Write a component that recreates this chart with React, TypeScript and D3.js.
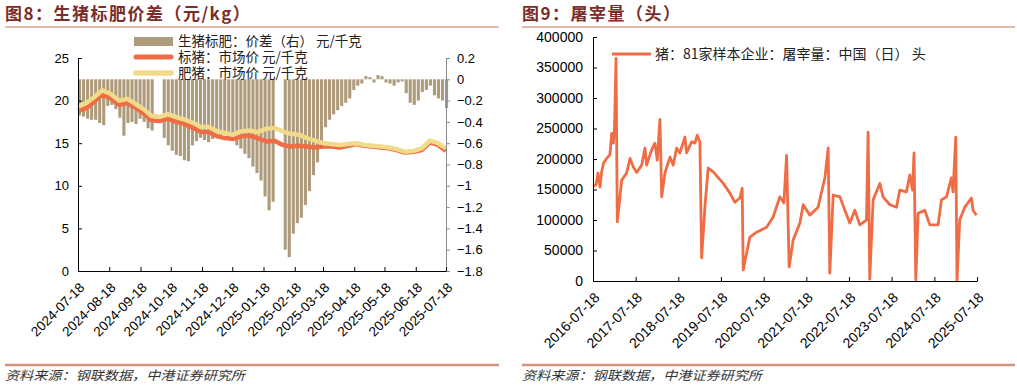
import { useEffect, useRef } from "react";
import * as d3 from "d3";

// ---- left chart: 生猪标肥价差 ----
const spreadStart = "2024-07-18"; // bars every 4 days
const spreadValues = [
  -0.34, -0.35, -0.37, -0.38, -0.38, -0.41, -0.43, -0.25, -0.24, -0.28,
  -0.36, -0.53, -0.41, -0.40, -0.42, -0.37, -0.40, -0.46, -0.48, null,
  null, -0.55, -0.62, -0.67, -0.71, -0.72, -0.76, -0.77, -0.62, -0.58,
  -0.55, -0.57, -0.59, -0.56, -0.52, -0.53, -0.51, -0.55, -0.58, -0.62,
  -0.65, -0.70, -0.74, -0.82, -0.88, -0.95, -1.10, -1.23, -1.15, null,
  null, -1.60, -1.67, -1.45, -1.35, -1.30, -1.18, -1.05, -0.90, -0.78,
  -0.62, -0.45, -0.38, -0.33, -0.29, -0.25, -0.22, -0.18, -0.10, -0.06,
  -0.04, 0.03, 0.02, -0.03, 0.04, 0.03, -0.03, -0.04, -0.06, -0.03,
  -0.02, -0.13, -0.22, -0.24, -0.20, -0.12, -0.10, -0.06, -0.15, -0.18,
  -0.20, -0.27,
];
const standardPrice = [
  18.8, 19.1, 19.9, 20.7, 20.3, 19.5, 19.7, 19.2, 18.5, 17.7,
  17.6, 17.9, 17.5, 17.3, 16.8, 16.3, 16.3, 15.8, 15.6, 15.5,
  15.8, 15.9, 15.6, 15.2, 15.3, 14.8, 14.6, 14.7, 14.6, 14.5,
  14.6, 14.6, 14.5, 14.7, 14.9, 14.7, 14.6, 14.5, 14.4, 14.2,
  13.9, 14.0, 14.2, 15.1, 14.8, 14.1,
];
const fatPrice = [
  19.3, 19.7, 20.4, 21.2, 20.8, 20.0, 20.2, 19.6, 19.0, 18.2,
  18.1, 18.4, 18.1, 17.8, 17.4, 16.9, 16.9, 16.4, 16.2, 16.0,
  16.4, 16.5, 16.3, 16.7, 16.8, 16.4, 16.1, 16.0, 15.6, 15.3,
  15.0, 14.9, 14.8, 14.9, 15.0, 14.8, 14.7, 14.6, 14.5, 14.3,
  14.0, 14.1, 14.4, 15.3, 15.0, 14.4,
];
const leftYTicks = [0, 5, 10, 15, 20, 25];
const rightYTicks = [0.2, 0, -0.2, -0.4, -0.6, -0.8, -1, -1.2, -1.4, -1.6, -1.8];
const leftXTicks = [
  "2024-07-18", "2024-08-18", "2024-09-18", "2024-10-18", "2024-11-18",
  "2024-12-18", "2025-01-18", "2025-02-18", "2025-03-18", "2025-04-18",
  "2025-05-18", "2025-06-18", "2025-07-18",
];

// ---- right chart: 屠宰量 ----
const slaughterDates = [
  "2016-07-18", "2016-08-13", "2016-08-30", "2016-09-16", "2016-09-30", "2016-10-16",
  "2016-11-12", "2016-12-10", "2016-12-25", "2017-01-08", "2017-01-18", "2017-01-31",
  "2017-02-11", "2017-03-06", "2017-03-20", "2017-05-02", "2017-05-31", "2017-06-28",
  "2017-07-27", "2017-09-08", "2017-10-06", "2017-10-20", "2017-12-02", "2017-12-30",
  "2018-01-19", "2018-02-11", "2018-02-26", "2018-03-26", "2018-05-08", "2018-06-05",
  "2018-07-04", "2018-08-01", "2018-09-13", "2018-09-27", "2018-11-09", "2018-12-08",
  "2018-12-27", "2019-01-19", "2019-02-03", "2019-03-03", "2019-03-31", "2019-05-13",
  "2019-08-07", "2019-10-03", "2019-11-15", "2019-12-27", "2020-01-16", "2020-01-25",
  "2020-02-23", "2020-03-22", "2020-05-18", "2020-08-12", "2020-10-07", "2020-12-04",
  "2021-01-07", "2021-01-30", "2021-02-21", "2021-03-27", "2021-05-24", "2021-06-21",
  "2021-08-17", "2021-10-27", "2021-12-24", "2022-01-21", "2022-02-04", "2022-03-05",
  "2022-05-01", "2022-06-13", "2022-07-25", "2022-09-06", "2022-10-19", "2022-12-15",
  "2022-12-29", "2023-01-12", "2023-02-10", "2023-04-08", "2023-05-06", "2023-07-03",
  "2023-08-29", "2023-09-26", "2023-11-22", "2023-12-21", "2024-01-13", "2024-01-26",
  "2024-02-10", "2024-03-01", "2024-04-27", "2024-06-09", "2024-08-19", "2024-09-17",
  "2024-10-30", "2024-12-11", "2024-12-25", "2025-01-17", "2025-01-28", "2025-02-20",
  "2025-04-04", "2025-05-02", "2025-05-31", "2025-06-14", "2025-07-13",
];
const slaughterValues = [
  155000, 158000, 177000, 154000, 179000, 193000,
  201000, 207000, 242000, 226000, 250000, 365000,
  97000, 138000, 165000, 177000, 201000, 187000,
  178000, 190000, 218000, 190000, 215000, 226000,
  198000, 265000, 138000, 177000, 203000, 190000,
  218000, 210000, 236000, 210000, 228000, 226000,
  239000, 228000, 38000, 121000, 185000, 179000,
  160000, 144000, 129000, 136000, 152000, 18000,
  46000, 72000, 80000, 88000, 105000, 138000,
  128000, 206000, 23000, 67000, 95000, 125000,
  108000, 121000, 169000, 218000, 13000, 141000,
  138000, 116000, 95000, 116000, 92000, 100000,
  244000, 3000, 133000, 160000, 138000, 125000,
  121000, 149000, 146000, 174000, 149000, 210000,
  2000, 111000, 116000, 92000, 92000, 133000,
  138000, 169000, 146000, 236000, 0, 100000,
  121000, 128000, 136000, 116000, 108000,
];
const slaughterYTicks = [0, 50000, 100000, 150000, 200000, 250000, 300000, 350000, 400000];
const slaughterXTicks = [
  "2016-07-18", "2017-07-18", "2018-07-18", "2019-07-18", "2020-07-18",
  "2021-07-18", "2022-07-18", "2023-07-18", "2024-07-18", "2025-07-18",
];

const parse = d3.timeParse("%Y-%m-%d");
const cjk = "'Noto Sans CJK SC', sans-serif";
const latin = "'Liberation Sans', Arial, sans-serif";
const barColor = "#ae9b7c";
const orange = "#ef6c44";
const yellow = "#f1da88";
const titleColor = "#7b2d2a";
const ruleColor = "#dba394";

function App() {
  const ref = useRef<SVGSVGElement>(null);

  useEffect(() => {
    const svg = d3.select(ref.current);
    svg.selectAll("*").remove();
    drawFrame(svg);
    drawSpread(svg);
    drawSlaughter(svg);
  }, []);

  return (
    <div style={{ position: "absolute", left: 0, top: 0 }}>
      <svg ref={ref} width={1017} height={387}></svg>
    </div>
  );
}

function drawFrame(svg: any) {
  const titles = [
    { x: 5, text: "图8：生猪标肥价差（元/kg）", x1: 5, x2: 499 },
    { x: 522, text: "图9：屠宰量（头）", x1: 522, x2: 1015 },
  ];
  titles.forEach((t) => {
    svg.append("text")
      .attr("x", t.x).attr("y", 20)
      .attr("font-family", cjk).attr("font-size", 17).attr("font-weight", "bold")
      .attr("letter-spacing", 1.5)
      .attr("fill", titleColor)
      .text(t.text);
    svg.append("line")
      .attr("x1", t.x1).attr("x2", t.x2).attr("y1", 27).attr("y2", 27)
      .attr("stroke", ruleColor).attr("stroke-width", 1.5);
    svg.append("line")
      .attr("x1", t.x1).attr("x2", t.x2).attr("y1", 365).attr("y2", 365)
      .attr("stroke", "#d39482").attr("stroke-width", 2.5);
    svg.append("text")
      .attr("x", t.x1).attr("y", 380)
      .attr("font-family", cjk).attr("font-size", 12.5).attr("font-style", "italic")
      .attr("fill", "#333")
      .attr("textLength", 240).attr("lengthAdjust", "spacingAndGlyphs")
      .text("资料来源：钢联数据，中港证券研究所");
  });
}

function rotatedLabels(svg: any, ticks: string[], x: any, y0: number, size: number) {
  svg.append("g")
    .selectAll("text")
    .data(ticks)
    .join("text")
    .attr("transform", (d: string) => `translate(${x(parse(d)) + 4},${y0}) rotate(-45)`)
    .attr("text-anchor", "end")
    .attr("dy", "0.35em")
    .attr("font-family", latin)
    .attr("font-size", size)
    .attr("fill", "#000")
    .text((d: string) => d);
}

function drawSpread(svg: any) {
  const left = 78, right = 446, top = 58, bottom = 271;
  const start = parse(spreadStart)!;
  const x = d3.scaleTime()
    .domain([parse("2024-07-18")!, parse("2025-07-18")!])
    .range([left, right]);
  const yL = d3.scaleLinear().domain([0, 25]).range([bottom, top]);
  const yR = d3.scaleLinear().domain([-1.8, 0.2]).range([bottom, top]);

  // bars (right axis)
  const bars = spreadValues
    .map((v, i) => ({ date: d3.timeDay.offset(start, i * 4), v }))
    .filter((d) => d.v !== null) as { date: Date; v: number }[];
  svg.append("g")
    .selectAll("rect")
    .data(bars)
    .join("rect")
    .attr("x", (d: any) => x(d.date))
    .attr("width", 3.1)
    .attr("y", (d: any) => Math.min(yR(0), yR(d.v)))
    .attr("height", (d: any) => Math.abs(yR(d.v) - yR(0)))
    .attr("fill", barColor);

  // price lines (left axis)
  const n = standardPrice.length;
  const lineDate = (i: number) => d3.timeDay.offset(parse("2024-07-18")!, Math.round((i * 365) / (n - 1)));
  const line = d3.line<number>()
    .x((d, i) => x(lineDate(i)))
    .y((d) => yL(d))
    .curve(d3.curveLinear);
  svg.append("path")
    .datum(standardPrice)
    .attr("fill", "none").attr("stroke", orange).attr("stroke-width", 4.5)
    .attr("stroke-linejoin", "round")
    .attr("d", line);
  svg.append("path")
    .datum(fatPrice)
    .attr("fill", "none").attr("stroke", yellow).attr("stroke-width", 4.5)
    .attr("stroke-linejoin", "round")
    .attr("d", line);

  // axes
  const gl = svg.append("g")
    .attr("transform", `translate(${left},0)`)
    .call(d3.axisLeft(yL).tickValues(leftYTicks).tickSize(-4).tickSizeOuter(0).tickPadding(9));
  gl.selectAll("text").attr("font-family", latin).attr("font-size", 13).attr("fill", "#000");
  gl.selectAll("line, path").attr("stroke", "#000");

  const gr = svg.append("g")
    .attr("transform", `translate(${right},0)`)
    .call(d3.axisRight(yR).tickValues(rightYTicks).tickSize(4).tickSizeOuter(0).tickPadding(7)
      .tickFormat((d: any) => d3.format("")(+d.toFixed(1))));
  gr.selectAll("text").attr("font-family", latin).attr("font-size", 13).attr("fill", "#000");
  gr.selectAll("line, path").attr("stroke", "#8c8c8c");

  const gb = svg.append("g")
    .attr("transform", `translate(0,${bottom})`)
    .call(d3.axisBottom(x).tickValues(leftXTicks.map((d) => parse(d)!)).tickSize(-4).tickSizeOuter(0).tickFormat(() => ""));
  gb.selectAll("line, path").attr("stroke", "#000");
  rotatedLabels(svg, leftXTicks, x, bottom + 14, 13.5);

  // legend
  const lg = svg.append("g").attr("font-family", cjk).attr("font-size", 13.5).attr("fill", "#222");
  lg.append("rect").attr("x", 134).attr("y", 37).attr("width", 39).attr("height", 9).attr("fill", barColor);
  lg.append("text").attr("x", 178).attr("y", 46).text("生猪标肥：价差（右） 元/千克");
  lg.append("line").attr("x1", 136).attr("x2", 171).attr("y1", 57).attr("y2", 57)
    .attr("stroke", orange).attr("stroke-width", 5).attr("stroke-linecap", "round");
  lg.append("text").attr("x", 178).attr("y", 62).text("标猪：市场价 元/千克");
  lg.append("line").attr("x1", 136).attr("x2", 171).attr("y1", 73).attr("y2", 73)
    .attr("stroke", yellow).attr("stroke-width", 5.5).attr("stroke-linecap", "round");
  lg.append("text").attr("x", 178).attr("y", 78).text("肥猪：市场价 元/千克");
}

function drawSlaughter(svg: any) {
  const left = 593, right = 977, top = 37, bottom = 281;
  const x = d3.scaleTime()
    .domain([parse("2016-07-18")!, parse("2025-07-18")!])
    .range([left, right]);
  const y = d3.scaleLinear().domain([0, 400000]).range([bottom, top]);

  const data = slaughterDates.map((d, i) => ({ date: parse(d)!, v: slaughterValues[i] }));
  svg.append("path")
    .datum(data)
    .attr("fill", "none").attr("stroke", orange).attr("stroke-width", 2.8)
    .attr("stroke-linejoin", "round")
    .attr("d", d3.line<any>().x((d) => x(d.date)).y((d) => y(d.v)));

  const gl = svg.append("g")
    .attr("transform", `translate(${left},0)`)
    .call(d3.axisLeft(y).tickValues(slaughterYTicks).tickSize(-4).tickSizeOuter(0).tickPadding(10)
      .tickFormat((d: any) => String(d)));
  gl.selectAll("text").attr("font-family", latin).attr("font-size", 14).attr("fill", "#000");
  gl.selectAll("line, path").attr("stroke", "#000");

  const gb = svg.append("g")
    .attr("transform", `translate(0,${bottom})`)
    .call(d3.axisBottom(x).tickValues(slaughterXTicks.map((d) => parse(d)!)).tickSize(-4).tickSizeOuter(0).tickFormat(() => ""));
  gb.selectAll("line, path").attr("stroke", "#000");
  rotatedLabels(svg, slaughterXTicks, x, bottom + 14, 14);

  const lg = svg.append("g").attr("font-family", cjk).attr("font-size", 14).attr("fill", "#222");
  lg.append("line").attr("x1", 612).attr("x2", 651).attr("y1", 54).attr("y2", 54)
    .attr("stroke", orange).attr("stroke-width", 3);
  lg.append("text").attr("x", 655).attr("y", 59).text("猪：81家样本企业：屠宰量：中国（日） 头");
}

export default App;
